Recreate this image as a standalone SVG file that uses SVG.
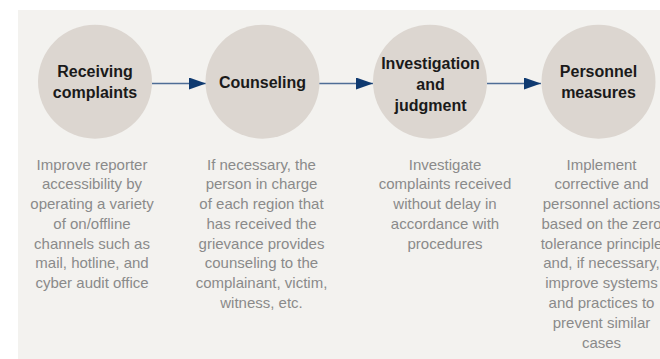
<svg xmlns="http://www.w3.org/2000/svg" width="660" height="359" viewBox="0 0 660 359">
<defs>
<style>
.circ{fill:#dcd6d0}
.title{font-family:"Liberation Sans",Arial,sans-serif;font-weight:bold;font-size:16px;fill:#1a1a1a;text-anchor:middle}
.desc{font-family:"Liberation Sans",Arial,sans-serif;font-size:15px;fill:#8a8a8a;text-anchor:middle}
.conn{stroke:#4e6d96;stroke-width:1.6;fill:none}
</style>
<marker id="arr" markerWidth="17" markerHeight="12" refX="17" refY="6" orient="auto" markerUnits="userSpaceOnUse">
<path d="M0,0 L17,6 L0,12 Z" fill="#0f3a70"/>
</marker>
</defs>
<rect x="0" y="0" width="660" height="359" fill="#ffffff"/>
<rect x="18" y="10" width="642" height="349" fill="#f3f2ef"/>
<g id="connectors">
<line class="conn" x1="152" y1="83.5" x2="206" y2="83.5" marker-end="url(#arr)"/>
<line class="conn" x1="319" y1="83.5" x2="373" y2="83.5" marker-end="url(#arr)"/>
<line class="conn" x1="487" y1="83.5" x2="541" y2="83.5" marker-end="url(#arr)"/>
</g>
<g id="node-receiving">
<circle class="circ" cx="95" cy="81.7" r="57"/>
<text class="title" x="95" y="76.5">Receiving</text>
<text class="title" x="95" y="97.5">complaints</text>
<text class="desc" x="92"><tspan x="92" y="169.5">Improve reporter</tspan><tspan x="92" y="189.3">accessibility by</tspan><tspan x="92" y="209">operating a variety</tspan><tspan x="92" y="228.8">of on/offline</tspan><tspan x="92" y="248.6">channels such as</tspan><tspan x="92" y="268.4">mail, hotline, and</tspan><tspan x="92" y="288.2">cyber audit office</tspan></text>
</g>
<g id="node-counseling">
<circle class="circ" cx="262.5" cy="81.7" r="57"/>
<text class="title" x="262.5" y="87.5">Counseling</text>
<text class="desc"><tspan x="261.5" y="169.5">If necessary, the</tspan><tspan x="261.5" y="189.3">person in charge</tspan><tspan x="261.5" y="209">of each region that</tspan><tspan x="261.5" y="228.8">has received the</tspan><tspan x="261.5" y="248.6">grievance provides</tspan><tspan x="261.5" y="268.4">counseling to the</tspan><tspan x="261.5" y="288.2">complainant, victim,</tspan><tspan x="261.5" y="308">witness, etc.</tspan></text>
</g>
<g id="node-investigation">
<circle class="circ" cx="430" cy="81.7" r="57"/>
<text class="title" x="430.5" y="68.5">Investigation</text>
<text class="title" x="430.5" y="89.5">and</text>
<text class="title" x="430.5" y="110.5">judgment</text>
<text class="desc"><tspan x="445" y="169.5">Investigate</tspan><tspan x="445" y="189.3">complaints received</tspan><tspan x="445" y="209">without delay in</tspan><tspan x="445" y="228.8">accordance with</tspan><tspan x="445" y="248.6">procedures</tspan></text>
</g>
<g id="node-personnel">
<circle class="circ" cx="598.5" cy="81.7" r="57"/>
<text class="title" x="598.5" y="76.5">Personnel</text>
<text class="title" x="598.5" y="97.5">measures</text>
<text class="desc"><tspan x="601.5" y="169.5">Implement</tspan><tspan x="601.5" y="189.3">corrective and</tspan><tspan x="601.5" y="209">personnel actions</tspan><tspan x="601.5" y="228.8">based on the zero</tspan><tspan x="601.5" y="248.6">tolerance principle</tspan><tspan x="601.5" y="268.4">and, if necessary,</tspan><tspan x="601.5" y="288.2">improve systems</tspan><tspan x="601.5" y="308">and practices to</tspan><tspan x="601.5" y="327.8">prevent similar</tspan><tspan x="601.5" y="347.5">cases</tspan></text>
</g>
</svg>
